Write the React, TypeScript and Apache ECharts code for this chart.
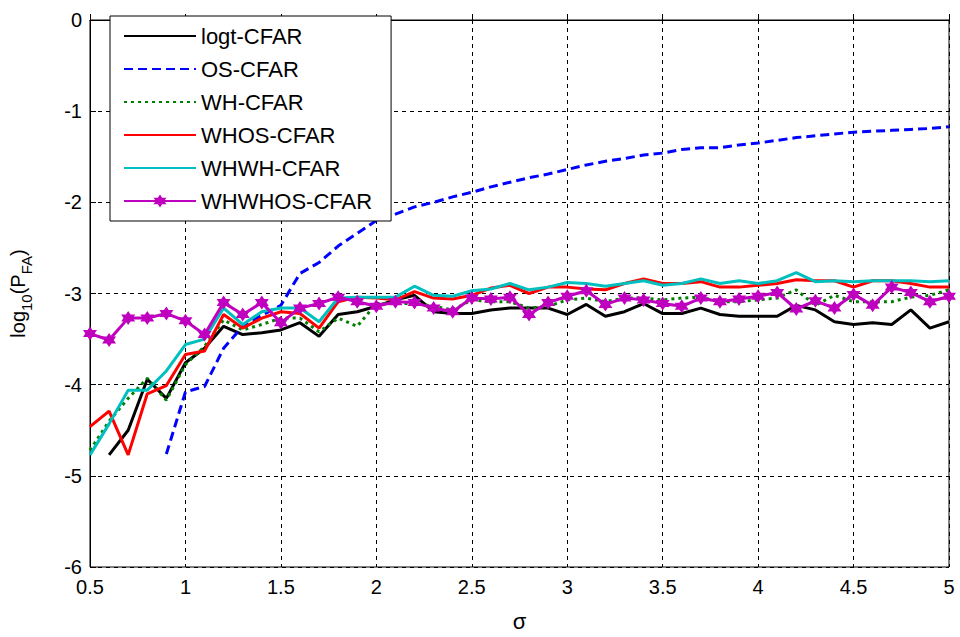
import React, { useEffect, useRef } from "react";
import * as echarts from "echarts";

const sigma = [0.5, 0.6, 0.7, 0.8, 0.9, 1.0, 1.1, 1.2, 1.3, 1.4, 1.5, 1.6, 1.7, 1.8, 1.9, 2.0, 2.1, 2.2, 2.3, 2.4, 2.5, 2.6, 2.7, 2.8, 2.9, 3.0, 3.1, 3.2, 3.3, 3.4, 3.5, 3.6, 3.7, 3.8, 3.9, 4.0, 4.1, 4.2, 4.3, 4.4, 4.5, 4.6, 4.7, 4.8, 4.9, 5.0];

const logtCFAR = [null, -4.77, -4.5, -3.94, -4.15, -3.76, -3.6, -3.36, -3.45, -3.43, -3.40, -3.32, -3.47, -3.23, -3.20, -3.14, -3.07, -3.02, -3.20, -3.22, -3.22, -3.18, -3.16, -3.16, -3.16, -3.23, -3.12, -3.25, -3.20, -3.11, -3.22, -3.22, -3.16, -3.23, -3.25, -3.25, -3.25, -3.13, -3.18, -3.31, -3.34, -3.32, -3.34, -3.18, -3.38, -3.31];
const osCFAR = [null, null, null, null, -4.76, -4.08, -4.02, -3.6, -3.36, -3.24, -3.13, -2.78, -2.66, -2.48, -2.34, -2.2, -2.13, -2.05, -2.0, -1.94, -1.89, -1.83, -1.78, -1.73, -1.69, -1.64, -1.59, -1.55, -1.52, -1.48, -1.46, -1.42, -1.40, -1.40, -1.37, -1.35, -1.32, -1.29, -1.27, -1.25, -1.23, -1.22, -1.21, -1.20, -1.19, -1.17];
const whCFAR = [-4.72, -4.4, -4.15, -3.93, -4.17, -3.78, -3.58, -3.29, -3.40, -3.34, -3.27, -3.27, -3.42, -3.27, -3.36, -3.11, -3.11, -3.11, -3.14, -3.18, -3.07, -3.09, -3.09, -3.16, -3.14, -3.07, -3.05, -3.09, -3.05, -3.05, -3.07, -3.05, -3.04, -3.09, -3.09, -3.07, -3.05, -2.96, -3.13, -3.02, -3.09, -3.09, -3.09, -3.04, -3.02, -2.96];
const whosCFAR = [-4.46, -4.29, -4.77, -4.10, -4.01, -3.67, -3.63, -3.23, -3.38, -3.27, -3.20, -3.22, -3.38, -3.09, -3.04, -3.05, -3.07, -2.98, -3.05, -3.06, -3.02, -2.94, -2.91, -3.0, -2.93, -2.93, -2.95, -2.96, -2.89, -2.84, -2.89, -2.89, -2.87, -2.93, -2.93, -2.91, -2.89, -2.85, -2.86, -2.86, -2.93, -2.86, -2.86, -2.89, -2.93, -2.93];
const whwhCFAR = [-4.77, -4.43, -4.06, -4.06, -3.85, -3.56, -3.5, -3.16, -3.34, -3.20, -3.16, -3.16, -3.31, -3.05, -3.04, -3.04, -3.04, -2.92, -3.02, -3.03, -2.97, -2.95, -2.89, -2.96, -2.93, -2.88, -2.89, -2.92, -2.89, -2.86, -2.91, -2.89, -2.84, -2.89, -2.86, -2.89, -2.86, -2.77, -2.87, -2.86, -2.87, -2.86, -2.86, -2.86, -2.87, -2.86];
const whwhosCFAR = [-3.44, -3.51, -3.27, -3.27, -3.22, -3.30, -3.45, -3.10, -3.23, -3.10, -3.32, -3.16, -3.11, -3.04, -3.09, -3.14, -3.09, -3.10, -3.16, -3.20, -3.05, -3.06, -3.04, -3.23, -3.10, -3.03, -2.97, -3.12, -3.05, -3.07, -3.11, -3.14, -3.05, -3.09, -3.06, -3.03, -2.99, -3.17, -3.08, -3.16, -3.01, -3.13, -2.93, -2.99, -3.09, -3.03];

const seriesNames = ["logt-CFAR", "OS-CFAR", "WH-CFAR", "WHOS-CFAR", "WHWH-CFAR", "WHWHOS-CFAR"];

const FONT = "'Liberation Sans', Arial, sans-serif";
const STAR = "path://M0,-10L2.9,-5L8.66,-5L5.8,0L8.66,5L2.9,5L0,10L-2.9,5L-8.66,5L-5.8,0L-8.66,-5L-2.9,-5Z";

function pairs(values: (number | null)[]) {
  return sigma.map((s, i) => [s, values[i]]);
}

export default function App() {
  const ref = useRef<HTMLDivElement>(null);
  useEffect(() => {
    document.body.style.margin = "0";
    if (!ref.current) return;
    const chart = echarts.init(ref.current, null, { renderer: "svg" });
    const lineSeries = (name: string, data: (number | null)[], color: string, type: any) => ({
      name,
      type: "line",
      data: pairs(data),
      showSymbol: false,
      symbol: "none",
      lineStyle: { color, width: 3, type, cap: "butt" },
      itemStyle: { color },
    });
    const hiddenIcon = { color: "rgba(0,0,0,0)", borderWidth: 0, opacity: 0 };
    chart.setOption({
      animation: false,
      backgroundColor: "#fff",
      grid: { left: 86, right: 11, top: 20, bottom: 64, show: true, borderColor: "#000", borderWidth: 1, backgroundColor: "#fff" },
      legend: {
        left: 110,
        top: 16,
        orient: "vertical",
        backgroundColor: "#fff",
        borderColor: "#000",
        borderWidth: 1,
        borderRadius: 0,
        padding: [9, 19, 9, 13],
        itemWidth: 72,
        itemHeight: 16,
        itemGap: 11,
        textStyle: { fontFamily: FONT, fontSize: 22, color: "#000" },
        data: [
          { name: seriesNames[0], itemStyle: hiddenIcon },
          { name: seriesNames[1], itemStyle: hiddenIcon },
          { name: seriesNames[2], itemStyle: hiddenIcon },
          { name: seriesNames[3], itemStyle: hiddenIcon },
          { name: seriesNames[4], itemStyle: hiddenIcon },
          { name: seriesNames[5] },
        ],
      },
      xAxis: {
        type: "value",
        min: 0.5,
        max: 5,
        interval: 0.5,
        name: "σ",
        nameLocation: "middle",
        nameGap: 43,
        nameTextStyle: { fontFamily: FONT, fontSize: 22, color: "#000" },
        axisLine: { show: true, lineStyle: { color: "#000", width: 1 } },
        axisTick: { show: true, inside: true, length: 6, lineStyle: { color: "#000" } },
        axisLabel: { fontFamily: FONT, fontSize: 20, color: "#000", margin: 10 },
        splitLine: { show: true, lineStyle: { color: "#000", width: 1, type: [4, 4] } },
      },
      yAxis: {
        type: "value",
        min: -6,
        max: 0,
        interval: 1,
        name: "{a|log}{s|10}{a|(P}{s|FA}{a|)}",
        nameLocation: "middle",
        nameRotate: 90,
        nameGap: 56,
        nameTextStyle: {
          fontFamily: FONT,
          color: "#000",
          rich: {
            a: { fontFamily: FONT, fontSize: 20, color: "#000", padding: [0, 0, 6, 0], verticalAlign: "bottom" },
            s: { fontFamily: FONT, fontSize: 15, color: "#000", verticalAlign: "bottom" },
          },
        },
        axisLine: { show: true, lineStyle: { color: "#000", width: 1 } },
        axisTick: { show: true, inside: true, length: 6, lineStyle: { color: "#000" } },
        axisLabel: { fontFamily: FONT, fontSize: 20, color: "#000", margin: 8 },
        splitLine: { show: true, lineStyle: { color: "#000", width: 1, type: [4, 4] } },
      },
      series: [
        lineSeries(seriesNames[0], logtCFAR, "#000000", "solid"),
        lineSeries(seriesNames[1], osCFAR, "#0000ff", [9, 5]),
        lineSeries(seriesNames[2], whCFAR, "#008000", [3, 4]),
        lineSeries(seriesNames[3], whosCFAR, "#ff0000", "solid"),
        lineSeries(seriesNames[4], whwhCFAR, "#00bfbf", "solid"),
        {
          name: seriesNames[5],
          type: "line",
          data: pairs(whwhosCFAR),
          showSymbol: true,
          symbol: STAR,
          symbolSize: 14,
          lineStyle: { color: "#bf00bf", width: 3 },
          itemStyle: { color: "#bf00bf" },
        },
      ],
    });
    return () => chart.dispose();
  }, []);
  return <div ref={ref} style={{ width: 960, height: 637 }} />;
}
